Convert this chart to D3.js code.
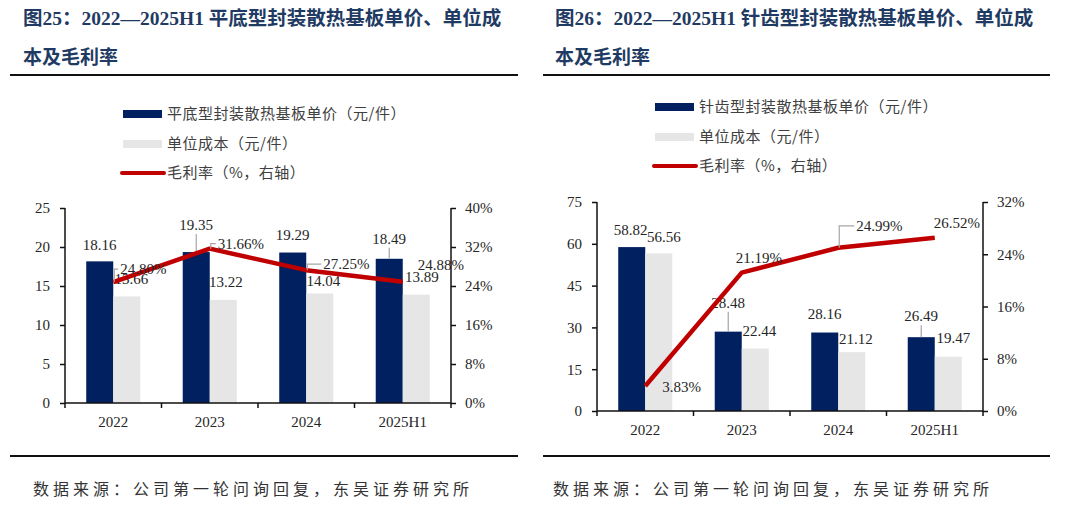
<!DOCTYPE html>
<html>
<head>
<meta charset="utf-8">
<script src="https://cdn.jsdelivr.net/npm/d3@7"></script>
<style>
  body { margin: 0; background: #fff; }
  svg { display: block; }
</style>
</head>
<body>
<div class="chart"></div>
<script>
// data
const years = ["2022", "2023", "2024", "2025H1"];

const flatPrice = [18.16, 19.35, 19.29, 18.49];
const flatCost = [13.66, 13.22, 14.04, 13.89];
const flatMargin = [24.80, 31.66, 27.25, 24.88];
const flatLeftTicks = [0, 5, 10, 15, 20, 25];
const flatRightTicks = [0, 8, 16, 24, 32, 40];

const pinPrice = [58.82, 28.48, 28.16, 26.49];
const pinCost = [56.56, 22.44, 21.12, 19.47];
const pinMargin = [3.83, 21.19, 24.99, 26.52];
const pinLeftTicks = [0, 15, 30, 45, 60, 75];
const pinRightTicks = [0, 8, 16, 24, 32];

const NAVY = "#002060", GREY = "#e7e6e6", RED = "#c00000";
const SERIF = "'Liberation Serif', 'Times New Roman', serif";
const CJK = "'Noto Sans CJK SC', sans-serif";

let svg = d3.select(".chart").append("svg")
  .attr("width", 1080).attr("height", 514);

let panels = [
  {
    ruleX: [10, 518], titleX: 23, sourceX: 33,
    title1: "图25：2022—2025H1 平底型封装散热基板单价、单位成",
    title2: "本及毛利率",
    legend: ["平底型封装散热基板单价（元/件）", "单位成本（元/件）", "毛利率（%，右轴）"],
    price: flatPrice, cost: flatCost, margin: flatMargin,
    leftTicks: flatLeftTicks, rightTicks: flatRightTicks,
    plot: { x0: 65, x1: 451, top: 208, bottom: 403 },
    legendPos: { x: 123, y: 114 },
    priceOff: [[0, -17], [0, -27], [0, -18], [0, -20]], priceLead: [false, true, false, true],
    costOff: [[4.5, -17.5], [2.5, -18], [3.5, -12.5], [5.5, -18]],
    marginOff: [[7, -13], [8, -5], [17, -6], [15, -17]], marginLead: [true, true, true, false]
  },
  {
    ruleX: [543, 1050], titleX: 555, sourceX: 553,
    title1: "图26：2022—2025H1 针齿型封装散热基板单价、单位成",
    title2: "本及毛利率",
    legend: ["针齿型封装散热基板单价（元/件）", "单位成本（元/件）", "毛利率（%，右轴）"],
    price: pinPrice, cost: pinCost, margin: pinMargin,
    leftTicks: pinLeftTicks, rightTicks: pinRightTicks,
    plot: { x0: 597, x1: 983, top: 202, bottom: 411 },
    legendPos: { x: 655, y: 107 },
    priceOff: [[-1, -17], [0, -29], [0, -18.5], [0, -21]], priceLead: [false, true, false, true],
    costOff: [[5, -17], [4, -17.5], [4, -13], [5, -18.5]],
    marginOff: [[17, 1], [-6, -15], [18, -22], [-1, -15]], marginLead: [false, false, true, false]
  }
];

let drawPanel = (p) => {
  let g = svg.append("g");

  // title + rules
  g.append("text").attr("x", p.titleX).attr("y", 18).attr("dy", "0.35em")
    .style("font-family", SERIF + "," + CJK).style("font-weight", 700)
    .style("font-size", "19.5px").style("fill", "#1f3b63")
    .text(p.title1);
  g.append("text").attr("x", p.titleX).attr("y", 57).attr("dy", "0.35em")
    .style("font-family", CJK).style("font-weight", 700)
    .style("font-size", "19px").style("fill", "#1f3b63")
    .text(p.title2);
  [75, 456].forEach(yy => {
    g.append("line").attr("x1", p.ruleX[0]).attr("x2", p.ruleX[1])
      .attr("y1", yy).attr("y2", yy)
      .style("stroke", "#111").style("stroke-width", 2);
  });
  g.append("text").attr("x", p.sourceX).attr("y", 489).attr("dy", "0.35em")
    .style("font-family", CJK).style("font-size", "16px")
    .style("letter-spacing", "4px").style("fill", "#333")
    .text("数据来源：公司第一轮问询回复，东吴证券研究所");

  // legend
  let lg = g.append("g").attr("transform", `translate(${p.legendPos.x}, ${p.legendPos.y})`);
  lg.append("rect").attr("x", 0).attr("y", -4).attr("width", 39).attr("height", 8).style("fill", NAVY);
  lg.append("rect").attr("x", 0).attr("y", 26).attr("width", 39).attr("height", 8).style("fill", GREY);
  lg.append("line").attr("x1", -1).attr("x2", 41).attr("y1", 59).attr("y2", 59)
    .style("stroke", RED).style("stroke-width", 4).style("stroke-linecap", "round");
  p.legend.forEach((t, i) => {
    lg.append("text").attr("x", 44).attr("y", i * 29.5).attr("dy", "0.35em")
      .style("font-family", CJK).style("font-size", "15px")
      .style("letter-spacing", "0.5px").style("fill", "#404040")
      .text(t);
  });

  // scales
  let x = d3.scaleBand().domain(years).range([p.plot.x0, p.plot.x1])
    .paddingInner(0.44).paddingOuter(0.22);
  let bw = x.bandwidth() / 2;
  let yL = d3.scaleLinear().domain([0, d3.max(p.leftTicks)]).range([p.plot.bottom, p.plot.top]);
  let yR = d3.scaleLinear().domain([0, d3.max(p.rightTicks)]).range([p.plot.bottom, p.plot.top]);

  // bars
  g.selectAll(".price").data(p.price).join("rect")
    .attr("x", (d, i) => x(years[i])).attr("width", bw)
    .attr("y", d => yL(d)).attr("height", d => yL(0) - yL(d))
    .style("fill", NAVY);
  g.selectAll(".cost").data(p.cost).join("rect")
    .attr("x", (d, i) => x(years[i]) + bw).attr("width", bw)
    .attr("y", d => yL(d)).attr("height", d => yL(0) - yL(d))
    .style("fill", GREY);

  // axes
  let axL = g.append("g").attr("transform", `translate(${p.plot.x0},0)`)
    .call(d3.axisLeft(yL).tickValues(p.leftTicks).tickSize(5).tickPadding(10));
  let axR = g.append("g").attr("transform", `translate(${p.plot.x1},0)`)
    .call(d3.axisRight(yR).tickValues(p.rightTicks).tickSize(5).tickPadding(9).tickFormat(d => d + "%"));
  [axL, axR].forEach(a => {
    a.select(".domain").attr("d", `M0,${p.plot.top}V${p.plot.bottom}`);
    a.selectAll("path, line").style("stroke", "#111").style("stroke-width", 1.5);
    a.selectAll("text").style("font-family", SERIF).style("font-size", "15px").style("fill", "#262626");
  });

  let ax = g.append("g");
  ax.append("line").attr("x1", p.plot.x0).attr("x2", p.plot.x1)
    .attr("y1", p.plot.bottom).attr("y2", p.plot.bottom)
    .style("stroke", "#111").style("stroke-width", 1.5);
  d3.range(years.length + 1).forEach(i => {
    let bx = p.plot.x0 + i * x.step();
    ax.append("line").attr("x1", bx).attr("x2", bx)
      .attr("y1", p.plot.bottom).attr("y2", p.plot.bottom + 5)
      .style("stroke", "#111").style("stroke-width", 1.5);
  });
  ax.selectAll(".xl").data(years).join("text")
    .attr("x", d => x(d) + x.bandwidth() / 2).attr("y", p.plot.bottom + 19)
    .attr("dy", "0.35em").attr("text-anchor", "middle")
    .style("font-family", SERIF).style("font-size", "15px").style("fill", "#262626")
    .text(d => d);

  let labelStyle = sel => sel.style("font-family", SERIF).style("font-size", "15px").style("fill", "#262626");
  let leader = (pts) => g.append("path").attr("d", d3.line()(pts))
    .style("fill", "none").style("stroke", "#a6a6a6").style("stroke-width", 1.2);

  // bar labels
  p.price.forEach((v, i) => {
    let cx = x(years[i]) + bw / 2, ty = yL(v);
    let lx = cx + p.priceOff[i][0], ly = ty + p.priceOff[i][1];
    if (p.priceLead[i]) leader([[cx, ty], [cx, ly + 9]]);
    g.append("text").attr("x", lx).attr("y", ly).attr("dy", "0.35em")
      .attr("text-anchor", "middle").call(labelStyle).text(v.toFixed(2));
  });
  p.cost.forEach((v, i) => {
    let cx = x(years[i]) + bw * 1.5, ty = yL(v);
    g.append("text").attr("x", cx + p.costOff[i][0]).attr("y", ty + p.costOff[i][1]).attr("dy", "0.35em")
      .attr("text-anchor", "middle").call(labelStyle).text(v.toFixed(2));
  });

  // margin line
  let pts = p.margin.map((v, i) => [x(years[i]) + x.bandwidth() / 2, yR(v)]);
  g.append("path").attr("d", d3.line()(pts))
    .style("fill", "none").style("stroke", RED).style("stroke-width", 4.5)
    .style("stroke-linejoin", "round");

  p.margin.forEach((v, i) => {
    let [px, py] = pts[i];
    let lx = px + p.marginOff[i][0], ly = py + p.marginOff[i][1];
    if (p.marginLead[i]) leader([[px + 1, py], [px + 1, ly], [lx - 2, ly]]);
    g.append("text").attr("x", lx).attr("y", ly).attr("dy", "0.35em")
      .call(labelStyle).text(v.toFixed(2) + "%");
  });
};

panels.forEach(drawPanel);
</script>
</body>
</html>
